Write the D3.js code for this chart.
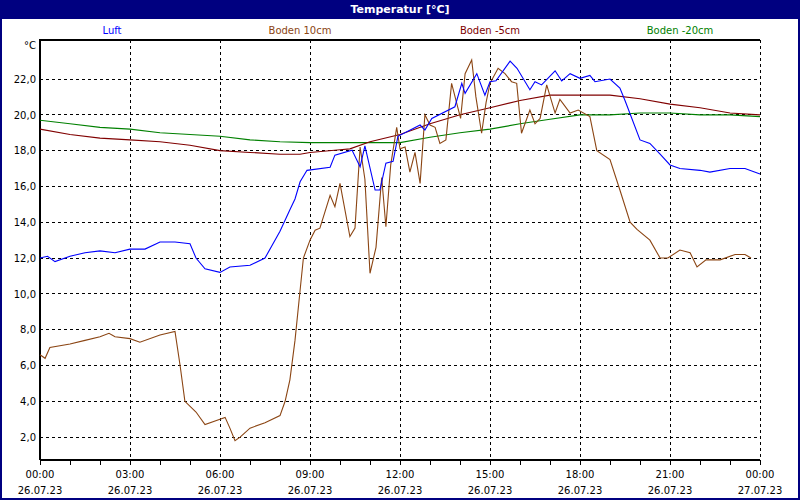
<!DOCTYPE html>
<html><head><meta charset="utf-8">
<script src="https://cdn.jsdelivr.net/npm/d3@7"></script>
<style>body{margin:0;background:#fff}svg{display:block}</style>
</head><body>
<script>
const title = "Temperatur [°C]";
const seriesNames = ["Luft","Boden 10cm","Boden -5cm","Boden -20cm"];
const seriesColors = ["#0000ff","#8b4513","#800000","#008000"];
const yTicks = [2,4,6,8,10,12,14,16,18,20,22];
const xTickHours = [0,3,6,9,12,15,18,21,24];
const xTimeLabels = ["00:00","03:00","06:00","09:00","12:00","15:00","18:00","21:00","00:00"];
const xDateLabels = ["26.07.23","26.07.23","26.07.23","26.07.23","26.07.23","26.07.23","26.07.23","26.07.23","27.07.23"];

const luftHours = [0,0.25,0.5,1,1.5,2,2.5,3,3.5,4,4.5,5,5.2,5.5,6,6.33,7,7.5,8,8.33,8.5,8.67,8.9,9.67,9.83,10.4,10.67,10.83,11.17,11.33,11.53,11.77,11.93,12.67,12.83,13.06,13.83,14.06,14.17,14.56,14.83,15,15.2,15.67,15.9,16.33,16.5,16.72,17.17,17.39,17.67,18,18.33,18.5,19,19.33,19.5,20,20.33,20.67,21,21.33,22,22.33,23,23.5,24];
const luftValues = [12.0,12.1,11.8,12.1,12.3,12.4,12.3,12.5,12.5,12.9,12.9,12.8,12.0,11.4,11.2,11.5,11.6,12.0,13.5,14.7,15.3,16.26,16.9,17.07,17.75,18.03,17.1,18.26,15.8,15.8,17.3,17.4,18.8,19.43,19.15,19.8,20.45,21.76,21.2,22.3,21.1,21.85,21.9,23.0,22.6,21.4,21.85,21.67,22.46,21.9,22.3,22.04,22.2,21.85,22.0,21.5,20.8,18.6,18.4,17.8,17.2,17.0,16.9,16.8,17.0,17.0,16.7];

const b10Hours = [0,0.17,0.33,1,1.5,2,2.3,2.5,3,3.33,4,4.5,4.67,4.83,5.2,5.5,6,6.17,6.33,6.5,6.67,7,7.5,8,8.17,8.33,8.5,8.67,8.78,9.0,9.17,9.33,9.67,9.83,10,10.33,10.5,10.67,10.83,11,11.2,11.39,11.53,11.69,11.89,12,12.17,12.33,12.5,12.67,12.83,13,13.17,13.33,13.53,13.72,14.02,14.17,14.39,14.53,14.72,14.87,15,15.27,15.5,15.72,15.89,16.05,16.33,16.5,16.67,16.89,17.17,17.33,17.67,17.94,18.33,18.56,19,19.33,19.67,19.9,20.33,20.67,20.93,21.33,21.67,21.9,22.2,22.67,23.17,23.5,23.7,23.93];
const b10Values = [6.6,6.4,7.0,7.2,7.4,7.6,7.8,7.6,7.5,7.3,7.7,7.9,6.0,4.0,3.4,2.7,3.0,3.1,2.5,1.8,2.0,2.5,2.8,3.2,4.0,5.2,7.4,10.2,12.0,13.0,13.56,13.67,15.5,14.87,16.17,13.2,13.67,18.2,16.4,11.15,12.6,16.5,13.75,17.2,19.3,18.1,18.2,16.8,17.9,16.17,20.0,19.43,19.3,18.4,18.6,21.76,19.8,22.3,23.06,21.0,18.97,20.7,21.76,22.6,22.3,21.85,21.76,18.97,20.27,19.5,19.8,21.67,20.1,20.86,20.1,20.27,19.9,18.0,17.5,15.8,14.0,13.6,13.0,12.0,12.0,12.45,12.3,11.5,11.9,11.9,12.2,12.2,12.0];

const b5Hours = [0,1,2,3,4,5,6,7,8,8.67,9,10,10.33,11,12,13,14,15,16,17,18,19,20,21,22,23,24];
const b5Values = [19.2,18.9,18.7,18.6,18.5,18.3,18.0,17.9,17.8,17.8,17.9,18.05,18.1,18.5,18.9,19.5,20.0,20.4,20.8,21.1,21.1,21.1,20.9,20.6,20.4,20.1,20.0];

const b20Hours = [0,1,2,3,4,5,6,7,8,9,10,11,12,13,14,15,16,17,18,19,20,21,22,23,24];
const b20Values = [19.7,19.5,19.3,19.2,19.0,18.9,18.8,18.6,18.5,18.45,18.45,18.45,18.45,18.75,19.0,19.2,19.5,19.75,20.0,20.0,20.1,20.1,20.0,20.0,19.9];

const allHours = [luftHours,b10Hours,b5Hours,b20Hours];
const allValues = [luftValues,b10Values,b5Values,b20Values];

const W=800,H=500, L=40,R=760,T=40,B=460;
const svg=d3.select("body").append("svg").attr("width",W).attr("height",H)
  .style("font-family","'DejaVu Sans',sans-serif");
svg.append("rect").attr("width",W).attr("height",H).attr("fill","#000080");
svg.append("rect").attr("x",2).attr("y",19).attr("width",W-4).attr("height",H-21).attr("fill","#fff");
svg.append("text").attr("x",W/2).attr("y",13).attr("text-anchor","middle").attr("fill","#fff")
  .attr("font-size",11).attr("font-weight","bold").text(title);

const x=d3.scaleLinear().domain([0,24]).range([L,R]);
const y=d3.scaleLinear().domain([0.72,24.18]).range([B,T]);

const legendX=[112,300,490,680];
seriesNames.forEach((n,i)=>svg.append("text").attr("x",legendX[i]).attr("y",34).attr("text-anchor","middle")
  .attr("font-size",10).attr("fill",seriesColors[i]).text(n));

const g=svg.append("g");
g.selectAll(".hg").data(yTicks).join("line").attr("x1",L).attr("x2",R).attr("y1",d=>y(d)).attr("y2",d=>y(d))
  .attr("stroke","#000").attr("stroke-dasharray","3,3").attr("shape-rendering","crispEdges");
g.selectAll(".vg").data(xTickHours.slice(1)).join("line").attr("x1",d=>x(d)).attr("x2",d=>x(d)).attr("y1",T).attr("y2",B)
  .attr("stroke","#000").attr("stroke-dasharray","3,3").attr("shape-rendering","crispEdges");

const yAxis=d3.axisLeft(y).tickValues(yTicks).tickSize(0).tickPadding(4).tickFormat(d=>d3.format(".1f")(d).replace(".",","));
const ya=svg.append("g").attr("transform",`translate(${L},0)`).call(yAxis);
ya.select(".domain").remove();
ya.selectAll("text").attr("font-size",10).attr("fill","#000").attr("font-family","'DejaVu Sans',sans-serif");
svg.append("text").attr("x",36).attr("y",49).attr("text-anchor","end").attr("font-size",10).text("°C");

const xAxis=d3.axisBottom(x).tickValues(d3.range(0,25,1)).tickSize(5).tickFormat("");
const xa=svg.append("g").attr("transform",`translate(0,${B})`).call(xAxis);
xa.select(".domain").remove();
xa.selectAll("line").attr("stroke","#000").attr("shape-rendering","crispEdges");
xTickHours.forEach((h,i)=>{
  svg.append("text").attr("x",x(h)).attr("y",478).attr("text-anchor","middle").attr("font-size",10).text(xTimeLabels[i]);
  svg.append("text").attr("x",x(h)).attr("y",494).attr("text-anchor","middle").attr("font-size",10).text(xDateLabels[i]);
});
svg.append("path").attr("d",`M${L},${B}V${T}H${R}M${L},${B}H${R}`).attr("fill","none").attr("stroke","#000")
  .attr("stroke-width",1.5).attr("shape-rendering","crispEdges");

[3,2,1,0].forEach(i=>{
  const pts=allHours[i].map((h,k)=>[h,allValues[i][k]]);
  svg.append("path").datum(pts).attr("fill","none").attr("stroke",seriesColors[i]).attr("stroke-width",1.1)
    .attr("d",d3.line().x(d=>x(d[0])).y(d=>y(d[1])));
});
</script>
</body></html>
